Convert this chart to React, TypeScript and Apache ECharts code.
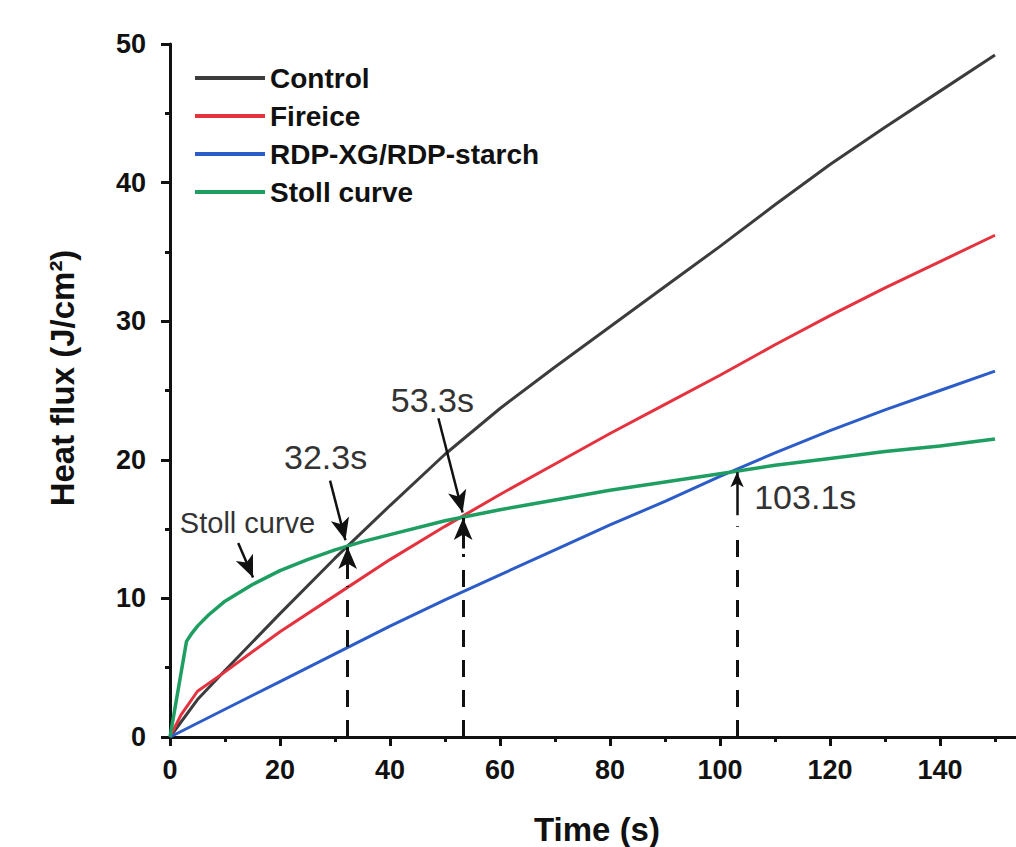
import React, { useEffect, useRef } from "react";
import * as echarts from "echarts";

const seriesNames = ["Control", "Fireice", "RDP-XG/RDP-starch", "Stoll curve"];

const controlT = [0, 5, 10, 20, 30, 40, 50, 60, 70, 80, 90, 100, 110, 120, 130, 140, 150];
const controlY = [0, 2.7, 4.8, 8.9, 12.9, 16.7, 20.4, 23.7, 26.7, 29.6, 32.5, 35.4, 38.4, 41.3, 44.0, 46.6, 49.2];

const fireiceT = [0, 2, 5, 10, 20, 30, 40, 50, 60, 70, 80, 90, 100, 110, 120, 130, 140, 150];
const fireiceY = [0, 1.6, 3.3, 4.7, 7.6, 10.2, 12.8, 15.2, 17.5, 19.7, 21.9, 24.0, 26.1, 28.3, 30.4, 32.4, 34.3, 36.2];

const rdpT = [0, 10, 20, 30, 40, 50, 60, 70, 80, 90, 100, 110, 120, 130, 140, 150];
const rdpY = [0, 2.0, 4.0, 6.0, 8.0, 9.9, 11.7, 13.5, 15.3, 17.0, 18.8, 20.5, 22.1, 23.6, 25.0, 26.4];

const stollT = [0, 3, 4, 5, 7, 10, 15, 20, 25, 30, 35, 40, 50, 60, 70, 80, 90, 100, 110, 120, 130, 140, 150];
const stollY = [0, 6.9, 7.5, 8.0, 8.8, 9.8, 11.0, 12.0, 12.8, 13.5, 14.1, 14.6, 15.6, 16.4, 17.1, 17.8, 18.4, 19.0, 19.6, 20.1, 20.6, 21.0, 21.5];

const seriesColors = ["#3c3c3c", "#e5323f", "#2c5cc8", "#1f9e62"];

// annotation values (data coordinates)
const crossTimes = [32.3, 53.3, 103.1];
const crossLabels = ["32.3s", "53.3s", "103.1s"];
const crossLabelPos = [
  [28.3, 20.2],
  [47.7, 24.3],
  [115.5, 17.35],
];
const stollLabel = "Stoll curve";
const stollLabelPos = [14.1, 15.44];

const pair = (t: number[], y: number[]) => t.map((v, i) => [v, y[i]]);

export default function App() {
  const ref = useRef<HTMLDivElement>(null);
  useEffect(() => {
    if (!ref.current) return;
    document.documentElement.style.overflow = "hidden";
    document.body.style.overflow = "hidden";
    const chart = echarts.init(ref.current, undefined, { renderer: "svg" });
    const font = "'Liberation Sans', Arial, sans-serif";
    const axisCommon = {
      type: "value" as const,
      axisLine: { show: true, onZero: false, lineStyle: { color: "#111", width: 3 } },
      axisTick: { show: true, inside: false, length: 9, lineStyle: { color: "#111", width: 3 } },
      minorTick: { show: true, splitNumber: 2, length: 5, lineStyle: { color: "#111", width: 3 } },
      splitLine: { show: false },
      axisLabel: { fontSize: 27, fontWeight: "bold" as const, fontFamily: font, color: "#111" },
    };
    const arrowLine = (from: number[], to: number[], size: number[], width = 2.5) => [
      { coord: from, symbol: "none", lineStyle: { color: "#111", width, type: "solid" } },
      { coord: to, symbol: "arrow", symbolSize: size },
    ];
    const dashLine = (from: number[], to: number[]) => [
      { coord: from, symbol: "none", lineStyle: { color: "#111", width: 3, type: [17, 13] } },
      { coord: to, symbol: "none" },
    ];
    const annotationFont = { fontFamily: font, color: "#333", fontWeight: "normal" as const };

    chart.setOption({
      animation: false,
      grid: {
        left: 170,
        top: 44,
        width: 880,
        height: 693,
        containLabel: false,
        outerBoundsMode: "none",
      },
      xAxis: [
        {
          ...axisCommon,
          min: 0,
          max: 160,
          interval: 20,
          axisLabel: {
            ...axisCommon.axisLabel,
            margin: 19,
            showMaxLabel: false,
            formatter: (v: number) => (v > 150 ? "" : String(v)),
          },
        },
        {
          type: "value",
          position: "top",
          min: 0,
          max: 160,
          interval: 20,
          axisLine: { show: true, lineStyle: { color: "#111", width: 3 } },
          axisTick: { show: false },
          axisLabel: { show: false },
          splitLine: { show: false },
        },
      ],
      yAxis: {
        ...axisCommon,
        min: 0,
        max: 50,
        interval: 10,
        axisLabel: { ...axisCommon.axisLabel, margin: 24 },
      },
      legend: {
        data: seriesNames,
        orient: "vertical",
        left: 190,
        top: 59,
        itemWidth: 70,
        itemHeight: 4,
        itemGap: 10,
        icon: "rect",
        textStyle: { fontSize: 28, fontWeight: "bold", fontFamily: font, color: "#111" },
      },
      graphic: [
        {
          type: "text",
          x: 597,
          y: 829,
          style: {
            text: "Time (s)",
            fontSize: 33,
            fontWeight: "bold",
            fontFamily: font,
            fill: "#111",
            align: "center",
            verticalAlign: "middle",
          },
        },
        {
          type: "text",
          x: 62,
          y: 378,
          rotation: Math.PI / 2,
          style: {
            text: "Heat flux (J/cm²)",
            fontSize: 33,
            fontWeight: "bold",
            fontFamily: font,
            fill: "#111",
            align: "center",
            verticalAlign: "middle",
          },
        },
      ],
      series: [
        {
          name: seriesNames[0],
          type: "line",
          data: pair(controlT, controlY),
          showSymbol: false,
          lineStyle: { width: 3, color: seriesColors[0] },
          itemStyle: { color: seriesColors[0] },
        },
        {
          name: seriesNames[1],
          type: "line",
          data: pair(fireiceT, fireiceY),
          showSymbol: false,
          lineStyle: { width: 3, color: seriesColors[1] },
          itemStyle: { color: seriesColors[1] },
        },
        {
          name: seriesNames[2],
          type: "line",
          data: pair(rdpT, rdpY),
          showSymbol: false,
          lineStyle: { width: 3, color: seriesColors[2] },
          itemStyle: { color: seriesColors[2] },
        },
        {
          name: seriesNames[3],
          type: "line",
          data: pair(stollT, stollY),
          showSymbol: false,
          lineStyle: { width: 3.5, color: seriesColors[3] },
          itemStyle: { color: seriesColors[3] },
        },
        {
          name: "annotations",
          type: "line",
          data: [],
          showSymbol: false,
          z: 5,
          markLine: {
            silent: true,
            animation: false,
            label: { show: false },
            emphasis: { disabled: true },
            data: [
              dashLine([crossTimes[0], 0], [crossTimes[0], 10.9]),
              arrowLine([crossTimes[0], 11.4], [crossTimes[0], 13.7], [14, 22], 3),
              dashLine([crossTimes[1], 0], [crossTimes[1], 13.2]),
              arrowLine([crossTimes[1], 13.6], [crossTimes[1], 15.8], [14, 22], 3),
              dashLine([crossTimes[2], 0], [crossTimes[2], 15.2]),
              arrowLine([crossTimes[2], 16.0], [crossTimes[2], 19.1], [10, 15], 2.5),
              arrowLine([29.1, 18.5], [31.9, 14.2], [14, 22]),
              arrowLine([48.8, 23.0], [53.2, 16.2], [14, 22]),
              arrowLine([12.4, 14.0], [15.1, 11.5], [14, 22]),
            ],
          },
          markPoint: {
            silent: true,
            symbol: "circle",
            symbolSize: 0,
            data: [
              ...crossLabels.map((t, i) => ({
                coord: crossLabelPos[i],
                label: { show: true, formatter: t, fontSize: 34, position: "inside", ...annotationFont },
              })),
              {
                coord: stollLabelPos,
                label: { show: true, formatter: stollLabel, fontSize: 29, position: "inside", ...annotationFont },
              },
            ],
          },
        },
      ],
    });
    return () => chart.dispose();
  }, []);
  return (
    <div
      ref={ref}
      style={{ position: "fixed", left: 0, top: 0, width: 1060, height: 847, background: "#fff" }}
    />
  );
}
